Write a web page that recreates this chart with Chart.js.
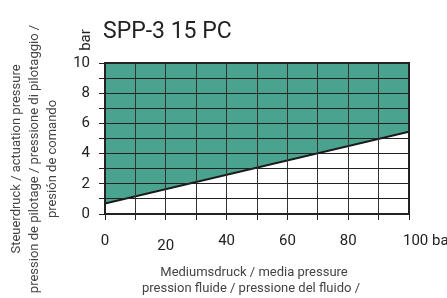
<!DOCTYPE html>
<html lang="de">
  <head>
    <meta charset="UTF-8" />
    <script src="https://cdn.jsdelivr.net/npm/chart.js"></script>
    <style>
      html, body { margin: 0; padding: 0; background: #fff; }
      #wrap { width: 447px; height: 298px; }
    </style>
  </head>
  <body>
    <div id="wrap">
      <canvas id="myChart" width="447" height="298"></canvas>
    </div>

    <script>
      // Mediumsdruck (bar) -> minimaler Steuerdruck (bar)
      const mediaPressure = [0, 100];
      const actuationPressure = [0.7, 5.45];
      const xTicks = [0, 20, 40, 60, 80, 100];
      const xTickLabels = ["0", "20", "40", "60", "80", "100 bar"];
      const yTickLabels = ["0", "2", "4", "6", "8", "10"];

      const chartTitle = "SPP-3 15 PC";
      const yUnit = "bar";
      const yTitle = [
        "Steuerdruck / actuation pressure",
        "pression de pilotage / pressione di pilotaggio /",
        "presión de comando",
      ];
      const xTitle = [
        "Mediumsdruck / media pressure",
        "pression fluide / pressione del fluido /",
      ];

      const points = mediaPressure.map((x, i) => ({ x: x, y: actuationPressure[i] }));

      const textPlugin = {
        id: "texts",
        afterDraw(chart) {
          const c = chart.ctx;
          const a = chart.chartArea;
          const xs = chart.scales.x;

          // frame
          c.save();
          c.strokeStyle = "#222";
          c.lineWidth = 2;
          c.strokeRect(a.left, a.top, a.right - a.left, a.bottom - a.top);

          // x tick labels
          c.fillStyle = "#222";
          c.font = "15px Roboto";
          c.textBaseline = "middle";
          xTicks.forEach((v, i) => {
            const px = xs.getPixelForValue(v);
            if (i === xTicks.length - 1) {
              c.textAlign = "left";
              c.fillText(xTickLabels[i], px - 6, 241);
            } else {
              c.textAlign = "center";
              c.fillText(xTickLabels[i], px, v === 20 ? 246 : 241);
            }
          });

          // title
          c.font = "23px Roboto";
          c.textAlign = "left";
          c.fillText(chartTitle, 103, 32);

          // unit "bar" rotated
          c.font = "15px Roboto";
          c.save();
          c.translate(86, 40);
          c.rotate(-Math.PI / 2);
          c.textAlign = "center";
          c.fillText(yUnit, 0, 0);
          c.restore();

          // y axis title
          c.fillStyle = "#444";
          c.font = "13px Roboto";
          const yPos = [17, 35, 53];
          yTitle.forEach((t, i) => {
            c.save();
            c.translate(yPos[i], 159);
            c.rotate(-Math.PI / 2);
            c.textAlign = "center";
            c.fillText(t, 0, 0);
            c.restore();
          });

          // x axis title
          c.font = "13px Roboto";
          c.textAlign = "center";
          c.fillText(xTitle[0], 254, 273);
          c.fillText(xTitle[1], 251, 289);
          c.restore();
        },
      };

      const myChart = new Chart(document.getElementById("myChart"), {
        type: "line",
        data: {
          datasets: [
            {
              data: points,
              borderColor: "#1a1a1a",
              borderWidth: 2,
              backgroundColor: "#4aa38f",
              fill: "end",
              pointRadius: 0,
              tension: 0,
            },
          ],
        },
        options: {
          responsive: false,
          animation: false,
          layout: { padding: { left: 0, top: 63, right: 38, bottom: 0 } },
          plugins: { legend: { display: false }, tooltip: { enabled: false } },
          scales: {
            x: {
              type: "linear",
              min: 0,
              max: 100,
              ticks: { stepSize: 10, display: false },
              grid: { z: 1, color: "#333", lineWidth: 1, tickLength: 6, tickColor: "#222" },
              border: { z: 1, color: "#222", width: 2 },
              afterFit: (s) => { s.height = 84; },
            },
            y: {
              min: 0,
              max: 10,
              ticks: {
                stepSize: 1,
                autoSkip: false,
                color: "#222",
                font: { family: "Roboto", size: 15 },
                padding: 9,
                callback: (v) => (v % 2 === 0 ? yTickLabels[v / 2] : ""),
              },
              grid: { z: 1, color: "#222", lineWidth: 1, tickLength: 6, tickColor: "#222" },
              border: { z: 1, color: "#222", width: 2 },
              afterFit: (s) => { s.width = 105; },
            },
          },
        },
        plugins: [textPlugin],
      });
    </script>
  </body>
</html>
